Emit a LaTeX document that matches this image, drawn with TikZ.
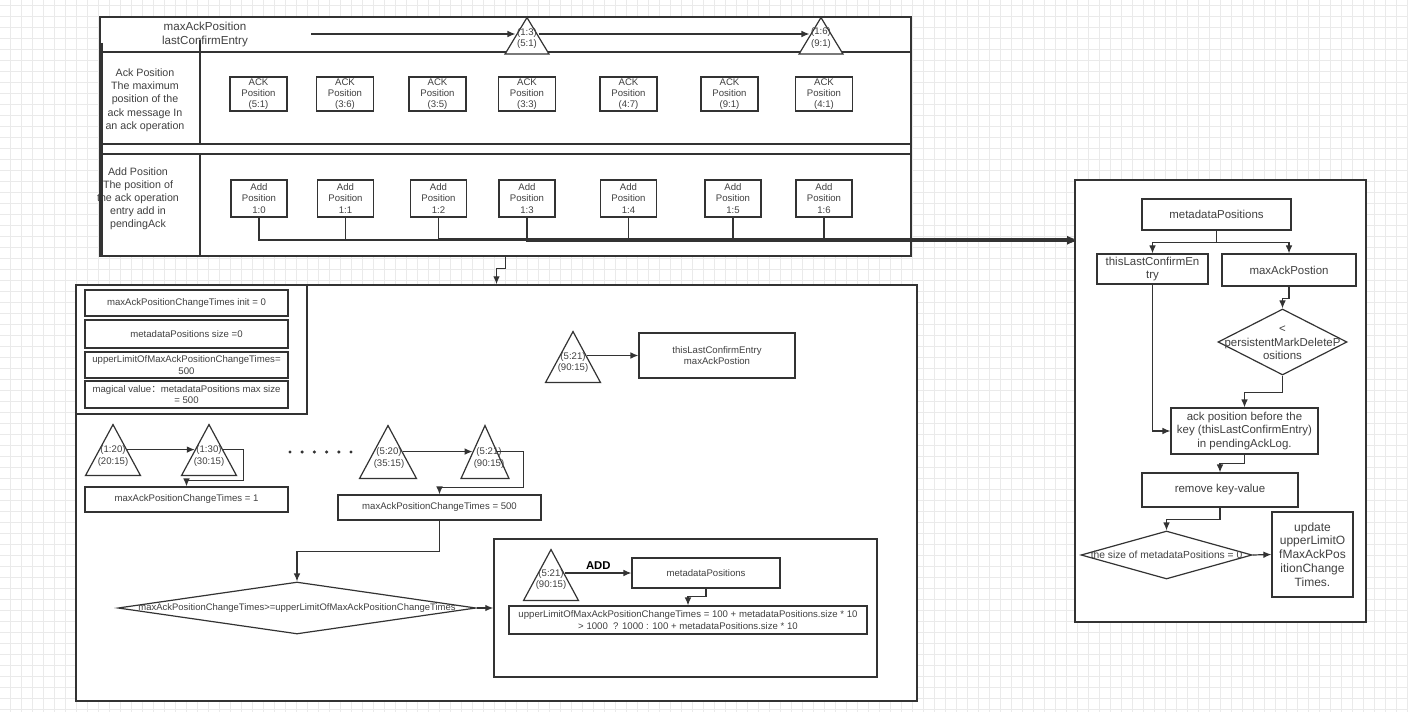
\documentclass[tikz,border=0pt]{standalone}
\usepackage{fontspec}
\setmainfont{Liberation Sans}
\newfontfamily\cjk{Noto Sans CJK SC}
\usetikzlibrary{arrows.meta,positioning,shapes.geometric}
\definecolor{dgLine}{RGB}{51,51,51}
\definecolor{dgText}{RGB}{64,64,64}
\definecolor{dgGrid}{RGB}{234,234,234}
\newcommand{\fsz}[2]{\fontsize{#1}{#2}\selectfont}

\begin{document}
\begin{tikzpicture}[x=0.75pt,y=-0.75pt,
  frame/.style={draw=dgLine,fill=white,line width=1.1pt},
  box/.style={draw=dgLine,fill=white,line width=0.9pt,align=center,inner sep=0.5pt,text=dgText,font=\fsz{7.2}{8.6}},
  bigbox/.style={box,font=\fsz{8.6}{10.2}},
  tri/.style={draw=dgLine,fill=white,line width=0.9pt,isosceles triangle,isosceles triangle stretches,shape border rotate=90,inner sep=0pt,anchor=apex},
  dia/.style={draw=dgLine,fill=white,line width=0.9pt,diamond,inner sep=0pt},
  lbl/.style={align=center,inner sep=0pt,text=dgText,font=\fsz{7.2}{8.6}},
  arr/.style={draw=dgLine,line width=0.9pt,-{Latex[length=6pt,width=5pt]}},
  sz/.style 2 args={minimum width=#1*0.75pt,minimum height=#2*0.75pt}]
    \useasboundingbox (0,0) rectangle (1408,712);
    % Background grid
    \fill[white] (0,0) rectangle (1408,712);
    \foreach \gx in {10.3,21.3,...,1408} \draw[dgGrid,line width=0.5pt] (\gx,0) -- (\gx,712);
    \foreach \gy in {5,16,...,712} \draw[dgGrid,line width=0.5pt] (0,\gy) -- (1408,\gy);

    % Top table
    \node[frame,sz={811}{239}] (tbl) at (505.5,136.5) {};
    \node[lbl,font=\fsz{8.7}{10.5}] (hdr) at (205,34.5) {maxAckPosition\\lastConfirmEntry};
    \node[lbl,font=\fsz{8}{10}] (ackLbl) at (145,100) {Ack Position\\The maximum\\position of the\\ack message In\\an ack operation};
    \node[lbl,font=\fsz{8}{9.8}] (addLbl) at (138,199) {Add Position\\The position of\\the ack operation\\entry add in\\pendingAck};
    \draw[dgLine,line width=1pt] (100,52) -- (911,52) (100,144) -- (911,144) (100,154) -- (911,154)
      (200,40) -- (200,144) (200,154) -- (200,256);
    \draw[dgLine,line width=2pt] (101.5,43) -- (101.5,256);
    \node[tri,sz={44}{36.5}] (ta) at (527,16) {};
    \node[lbl] (taT) at (527,38.5) {(1:3)\\(5:1)};
    \node[tri,sz={44}{36.5}] (tb) at (821,16) {};
    \node[lbl] (tbT) at (821,38) {(1:6)\\(9:1)};
    \coordinate (hdrStart) at (311,34);
    \draw[arr] (hdrStart) -- (hdrStart -| ta.left side);
    \draw[arr] (hdrStart -| ta.right side) -- (hdrStart -| tb.left side);
    \foreach \i/\x/\p in {1/258.5/5:1,2/345/3:6,3/437.5/3:5,4/527/3:3,5/628.5/4:7,6/729.5/9:1,7/824/4:1}
      \node[box,sz={57}{34},font=\fsz{7.2}{8.4}] (ack\i) at (\x,94) {ACK\\Position\\(\p)};
    \foreach \i/\x in {0/259,1/345.5,2/438.5,3/527,4/628.5,5/733,6/824}
      \node[box,sz={56}{37}] (add\i) at (\x,198.5) {Add\\Position\\1:\i};

    % Right panel
    \node[frame,sz={291}{442}] (rpanel) at (1220.5,401) {};
    \coordinate (busEnd) at (1075,240);
    \foreach \i/\dy in {0/0,1/0,2/-1,3/1.5,4/0.5,5/1,6/0}
      \draw[arr] (add\i.south) |- ([shift={(0,\dy)}]busEnd);
    \node[bigbox,sz={149}{31}] (meta2) at (1216.5,214.5) {metadataPositions};
    \node[bigbox,sz={111}{30}] (tlc) at (1152.5,269) {thisLastConfirmEn\\try};
    \node[bigbox,sz={134}{32}] (mack) at (1289,270) {maxAckPostion};
    \node[dia,sz={129}{66}] (dia1) at (1282.5,342) {};
    \node[lbl,font=\fsz{8.6}{10}] (dia1T) at (1282.5,343) {<\\persistentMarkDeleteP\\ositions};
    \node[bigbox,sz={147}{46}] (ackb) at (1244.5,431) {ack position before the\\key (thisLastConfirmEntry)\\in pendingAckLog.};
    \node[bigbox,sz={156}{34}] (rkv) at (1220,490) {remove key-value};
    \node[dia,sz={171}{48}] (dia2) at (1166.5,555) {};
    \node[lbl,font=\fsz{7.7}{9}] (dia2T) at (1166.5,555) {the size of metadataPositions = 0};
    \node[bigbox,sz={81}{85},font=\fsz{9}{10.4}] (upd) at (1312.5,554.5) {update\\upperLimitO\\fMaxAckPos\\itionChange\\Times.};
    \draw[arr] (meta2.south) -- ++(0,12) -| (tlc.north);
    \draw[arr] (meta2.south) -- ++(0,12) -| (mack.north);
    \draw[arr] (mack.south) -- ++(0,12) -| (dia1.north);
    \draw[arr] (dia1.south) -- ++(0,17) -| (ackb.north);
    \draw[arr] (tlc.south) |- (ackb.west);
    \draw[arr] (ackb.south) -- ++(0,9) -| (rkv.north);
    \draw[arr] (rkv.south) -- ++(0,12) -| (dia2.north);
    \draw[arr] (dia2.east) -- (upd.west);

    % Lower frame
    \node[frame,sz={841}{416}] (lower) at (496.5,493) {};
    \draw[arr] (tbl.south) -- ++(0,12) -| (lower.north);
    \node[frame,sz={231}{129}] (info) at (191.5,349.5) {};
    \node[box,sz={203}{26}] (initBox) at (186.5,303) {maxAckPositionChangeTimes init = 0};
    \node[box,sz={203}{28}] (sizeBox) at (186.5,334) {metadataPositions size =0};
    \node[box,sz={203}{26}] (limitBox) at (186.5,365) {upperLimitOfMaxAckPositionChangeTimes=\\500};
    \node[box,sz={203}{27}] (magicBox) at (186.5,394.5) {magical value{\cjk ：}metadataPositions max size\\= 500};

    \node[tri,sz={55}{51}] (t6) at (573,330) {};
    \node[lbl] (t6T) at (573,362.5) {(5:21)\\(90:15)};
    \node[box,sz={156}{45}] (tle) at (717,355.5) {thisLastConfirmEntry\\maxAckPostion};
    \draw[arr] (tle.west -| t6.right side) -- (tle.west);

    % Change counter row
    \node[tri,sz={55}{51}] (t1) at (113,423) {};
    \node[lbl] (t1T) at (113,456) {(1:20)\\(20:15)};
    \node[tri,sz={55}{51}] (t2) at (209,423) {};
    \node[lbl] (t2T) at (209,456) {(1:30)\\(30:15)};
    \node[box,sz={203}{25}] (cnt1) at (186.5,499.5) {maxAckPositionChangeTimes = 1};
    \foreach \k in {0,...,5} \fill[dgLine] (290+12.2*\k,452) circle[radius=1.3pt];
    \node[tri,sz={57}{53}] (t3) at (388,424) {};
    \node[lbl] (t3T) at (389,458) {(5:20)\\(35:15)};
    \node[tri,sz={48}{53}] (t4) at (485,424) {};
    \node[lbl] (t4T) at (489,458) {(5:21)\\(90:15)};
    \node[box,sz={203}{25}] (cnt500) at (439.5,507.5) {maxAckPositionChangeTimes = 500};
    \draw[arr] (t1.right side) -- (t1.right side -| t2.left side);
    \draw[arr] (t2.right side) -| ++(20,31) -| (cnt1.north);
    \draw[arr] (t3.right side) -- (t3.right side -| t4.left side);
    \draw[arr] (t4.right side) -| ++(26,36) -| (cnt500.north);

    % Condition and ADD box
    \node[dia,sz={358}{52}] (cond) at (297,608) {};
    \node[lbl,font=\fsz{7.1}{8.5}] (condT) at (297,608) {maxAckPositionChangeTimes>=upperLimitOfMaxAckPositionChangeTimes};
    \draw[arr] (cnt500.south) -- ++(0,31) -| (cond.north);
    \node[frame,sz={383}{138}] (addFrame) at (685.5,608) {};
    \draw[arr] (cond.east) -- (addFrame.west);
    \node[tri,sz={55}{51}] (t5) at (551,548) {};
    \node[lbl] (t5T) at (551,579.5) {(5:21)\\(90:15)};
    \node[box,sz={148}{30}] (meta) at (706,573) {metadataPositions};
    \draw[arr] (meta.west -| t5.right side) -- node[above,inner sep=2pt,text=black,font=\bfseries\fsz{8.5}{10}]{ADD} (meta.west);
    \node[box,sz={358}{28},font=\fsz{7.2}{8.8}] (formula) at (688,620) {upperLimitOfMaxAckPositionChangeTimes = 100 + metadataPositions.size * 10\\> 1000~~? 1000 : 100 + metadataPositions.size * 10};
    \draw[arr] (meta.south) -- ++(0,8) -| (formula.north);
\end{tikzpicture}
\end{document}
